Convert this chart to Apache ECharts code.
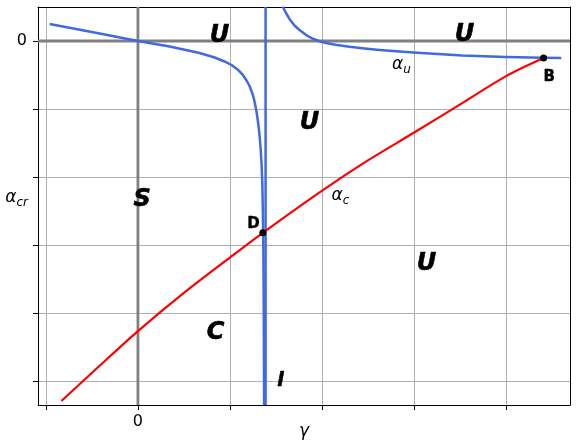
<!DOCTYPE html>
<html>
<head>
<meta charset="utf-8">
<script src="https://cdn.jsdelivr.net/npm/echarts@6/dist/echarts.min.js"></script>
<style>html,body{margin:0;padding:0;background:#fff}#c{width:580px;height:440px}</style>
</head>
<body>
<div id="c"></div>
<script>
// axis ranges and ticks
var xRange = [-1.086, 4.695];
var yRange = [-5.353, 0.5];
var xTicks = [-1, 0, 1, 2, 3, 4];
var yTicks = [0, -1, -2, -3, -4, -5];
var xTickLabels = [0];
var yTickLabels = [0];

// alpha_u left branch (gamma, alpha)
var alphaULeftX = [-0.959, -0.416, 0, 0.344, 0.670, 0.833, 0.941, 1.017, 1.083, 1.137, 1.180, 1.213, 1.246, 1.267, 1.289, 1.305, 1.321, 1.332, 1.343, 1.352, 1.358, 1.364, 1.368, 1.371];
var alphaULeftY = [0.250, 0.110, 0, -0.081, -0.176, -0.243, -0.301, -0.353, -0.419, -0.493, -0.581, -0.662, -0.779, -0.890, -1.044, -1.191, -1.382, -1.559, -1.794, -2.118, -2.559, -3.221, -4.250, -5.353];
// alpha_u right branch
var alphaURightX = [1.574, 1.615, 1.647, 1.701, 1.756, 1.843, 1.908, 1.973, 2.060, 2.147, 2.299, 2.461, 2.624, 2.993, 3.525, 3.992, 4.405, 4.600];
var alphaURightY = [0.504, 0.397, 0.324, 0.228, 0.162, 0.074, 0.029, -0.003, -0.032, -0.056, -0.085, -0.110, -0.131, -0.169, -0.213, -0.236, -0.248, -0.250];
// line l (vertical)
var lineLX = [1.387, 1.387];
var lineLY = [0.5, -5.353];
// alpha_c
var alphaCX = [-0.832, -0.416, 0, 0.496, 1.003, 1.357, 1.998, 2.494, 2.997, 3.493, 4.000, 4.408];
var alphaCY = [-5.294, -4.776, -4.266, -3.709, -3.181, -2.821, -2.204, -1.760, -1.350, -0.940, -0.516, -0.250];
// points
var pointNames = ['D', 'B'];
var pointX = [1.357, 4.408];
var pointY = [-2.821, -0.250];
var pointLabelX = [1.256, 4.47];
var pointLabelY = [-2.691, -0.529];
// region labels
var regionNames = ['U', 'U', 'U', 'S', 'C', 'U'];
var regionX = [0.887, 3.548, 1.864, 0.046, 0.844, 3.135];
var regionY = [0.074, 0.088, -1.206, -2.338, -4.294, -3.279];
// curve labels
var curveNames = ['{a|α}{s|u}', '{a|α}{s|c}', '{l|l}'];
var curveX = [2.863, 2.2, 1.549];
var curveY = [-0.353, -2.28, -5.0];

function zip(xs, ys) { return xs.map(function (x, i) { return [x, ys[i]]; }); }

var FONT = 'DejaVu Sans';
var chart = echarts.init(document.getElementById('c'), null, {renderer: 'canvas'});

var richAlpha = {
  a: {fontFamily: FONT, fontStyle: 'italic', fontSize: 17, color: '#000', lineHeight: 20},
  s: {fontFamily: FONT, fontStyle: 'italic', fontSize: 12, color: '#000', padding: [9, 0, 0, 0], lineHeight: 20},
  l: {fontFamily: FONT, fontStyle: 'italic', fontWeight: 'bold', fontSize: 19, color: '#000', textBorderColor: '#000', textBorderWidth: 0.6}
};

var option = {
  animation: false,
  backgroundColor: '#fff',
  grid: {left: 38, top: 7, width: 532, height: 398, containLabel: false, outerBoundsMode: 'none'},
  xAxis: [{
    type: 'value', min: xRange[0], max: xRange[1],
    name: 'γ', nameLocation: 'middle', nameGap: 18, nameMoveOverlap: false,
    nameTextStyle: {fontFamily: FONT, fontStyle: 'italic', fontSize: 17, color: '#000'},
    axisLine: {show: true, onZero: false, lineStyle: {color: '#000', width: 1}},
    axisTick: {show: true, length: 5, customValues: xTicks, lineStyle: {color: '#000'}},
    axisLabel: {customValues: xTickLabels, margin: 9, fontFamily: FONT, fontSize: 16, color: '#000',
      formatter: function (v) { return String(Math.round(v)); }},
    splitLine: {show: true, lineStyle: {color: '#b0b0b0', width: 1}}
  }, {
    type: 'value', min: xRange[0], max: xRange[1], position: 'top',
    axisLine: {show: true, onZero: false, lineStyle: {color: '#000', width: 1}},
    axisTick: {show: false}, axisLabel: {show: false}, splitLine: {show: false}
  }],
  yAxis: [{
    type: 'value', min: yRange[0], max: yRange[1],
    name: '{a|α}{s|cr}', nameLocation: 'middle', nameRotate: 0, nameGap: 10, nameMoveOverlap: false,
    nameTextStyle: {align: 'right', rich: richAlpha, padding: [0, 0, 16, 0]},
    axisLine: {show: true, onZero: false, lineStyle: {color: '#000', width: 1}},
    axisTick: {show: true, length: 5, customValues: yTicks, lineStyle: {color: '#000'}},
    axisLabel: {customValues: yTickLabels, margin: 11, fontFamily: FONT, fontSize: 16, color: '#000',
      formatter: function (v) { return String(Math.round(v)); }},
    splitLine: {show: true, lineStyle: {color: '#b0b0b0', width: 1}}
  }, {
    type: 'value', min: yRange[0], max: yRange[1], position: 'right',
    axisLine: {show: true, onZero: false, lineStyle: {color: '#000', width: 1}},
    axisTick: {show: false}, axisLabel: {show: false}, splitLine: {show: false}
  }],
  series: [
    {type: 'line', z: 1, symbol: 'none', silent: true, data: [[0, yRange[0]], [0, yRange[1]]],
      lineStyle: {color: '#808080', width: 2.8}},
    {type: 'line', z: 1, symbol: 'none', silent: true, data: [[xRange[0], 0], [xRange[1], 0]],
      lineStyle: {color: '#808080', width: 2.8}},
    {type: 'line', z: 3, symbol: 'none', data: zip(alphaULeftX, alphaULeftY),
      lineStyle: {color: '#4169e1', width: 2.5, join: 'round'}},
    {type: 'line', z: 3, symbol: 'none', data: zip(alphaURightX, alphaURightY),
      lineStyle: {color: '#4169e1', width: 2.5, join: 'round'}},
    {type: 'line', z: 3, symbol: 'none', data: zip(lineLX, lineLY),
      lineStyle: {color: '#4169e1', width: 2.5}},
    {type: 'line', z: 4, symbol: 'none', data: zip(alphaCX, alphaCY), smooth: 0.3,
      lineStyle: {color: '#ff0000', width: 2.2}},
    {type: 'scatter', z: 5, symbol: 'circle', symbolSize: 7, itemStyle: {color: '#000', opacity: 1},
      data: zip(pointX, pointY)},
    {type: 'scatter', z: 6, symbolSize: 0, silent: true, itemStyle: {opacity: 1},
      data: pointNames.map(function (n, i) { return {value: [pointLabelX[i], pointLabelY[i]], name: n}; }),
      label: {show: true, position: 'inside', formatter: '{b}', fontFamily: FONT, fontWeight: 'bold', fontSize: 15, color: '#000',
        textBorderColor: '#000', textBorderWidth: 0.4}},
    {type: 'scatter', z: 6, symbolSize: 0, silent: true, itemStyle: {opacity: 1},
      data: regionNames.map(function (n, i) { return {value: [regionX[i], regionY[i]], name: n}; }),
      label: {show: true, position: 'inside', formatter: '{b}', fontFamily: FONT, fontWeight: 'bold', fontStyle: 'italic', fontSize: 24, color: '#000',
        textBorderColor: '#000', textBorderWidth: 0.6}},
    {type: 'scatter', z: 6, symbolSize: 0, silent: true, itemStyle: {opacity: 1},
      data: curveNames.map(function (n, i) { return {value: [curveX[i], curveY[i]], name: n}; }),
      label: {show: true, position: 'inside', formatter: '{b}', rich: richAlpha}}
  ]
};
chart.setOption(option);
</script>
</body>
</html>
